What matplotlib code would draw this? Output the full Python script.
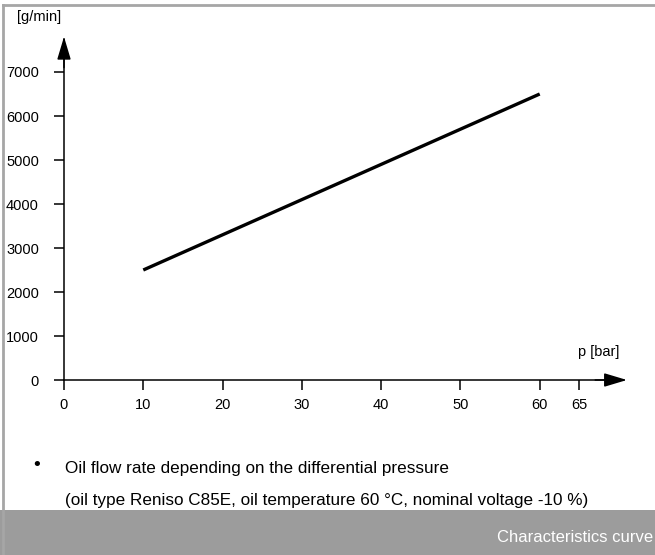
import matplotlib.pyplot as plt
from matplotlib.patches import Rectangle
from matplotlib.lines import Line2D

plt.rcParams['font.family'] = ['Liberation Sans', 'DejaVu Sans']

# Oil flow rate vs differential pressure
pressure = [10, 60]          # bar
flow_rate = [2500, 6500]     # g/min
x_ticks = [0, 10, 20, 30, 40, 50, 60, 65]
y_ticks = [0, 1000, 2000, 3000, 4000, 5000, 6000, 7000]

W, H = 655, 555
fig = plt.figure(figsize=(W / 100, H / 100), dpi=100)

# axes placed so that origin sits at pixel (64, 380)
ax = fig.add_axes([64 / W, 175 / H, 555 / W, 341 / H])
ax.set_xlim(0, 70)
ax.set_ylim(0, 7750)

ax.plot(pressure, flow_rate, color='black', lw=2.4, solid_capstyle='butt')

for s in ['top', 'right']:
    ax.spines[s].set_visible(False)
for s in ['left', 'bottom']:
    ax.spines[s].set_linewidth(1.1)

ax.set_xticks(x_ticks)
ax.set_yticks(y_ticks)
ax.tick_params(axis='both', direction='out', length=7, width=1.1, labelsize=10.5)
ax.tick_params(axis='y', pad=11)
ax.tick_params(axis='x', pad=6)

# arrow heads on the axes
arrow = dict(arrowstyle='-|>,head_length=1.4,head_width=0.42',
             color='black', lw=1.1, shrinkA=0, shrinkB=0)
ax.annotate('', xy=(71, 0), xytext=(67, 0), annotation_clip=False, arrowprops=arrow)
ax.annotate('', xy=(0, 7800), xytext=(0, 7100), annotation_clip=False, arrowprops=arrow)

ax.text(-0.4, 8250, '[g/min]', fontsize=10.5, ha='right', va='center', clip_on=False)
ax.text(70, 640, 'p [bar]', fontsize=10.5, ha='right', va='center', clip_on=False)

# frame around the figure
fig.add_artist(Line2D([2.5 / W, 2.5 / W], [0, 1 - 5 / H], color='#a6a6a6', lw=2))
fig.add_artist(Line2D([2.5 / W, 1], [1 - 5 / H, 1 - 5 / H], color='#a6a6a6', lw=2))

# notes
fig.text(37 / W, 1 - 465 / H, '\u2022', fontsize=13, ha='center', va='center',
         family='DejaVu Sans')
fig.text(65 / W, 1 - 469 / H, 'Oil flow rate depending on the differential pressure',
         fontsize=12.3, ha='left', va='center')
fig.text(65 / W, 1 - 501 / H,
         '(oil type Reniso C85E, oil temperature 60 \u00b0C, nominal voltage -10 %)',
         fontsize=12.3, ha='left', va='center')

# bottom bar
fig.add_artist(Rectangle((0, 0), 1, 45 / H, transform=fig.transFigure,
                         facecolor='#9c9c9c', edgecolor='none'))
fig.text(1 - 2 / W, 18 / H, 'Characteristics curve', fontsize=12,
         color='white', ha='right', va='center')

fig.savefig('out.png', dpi=100)
